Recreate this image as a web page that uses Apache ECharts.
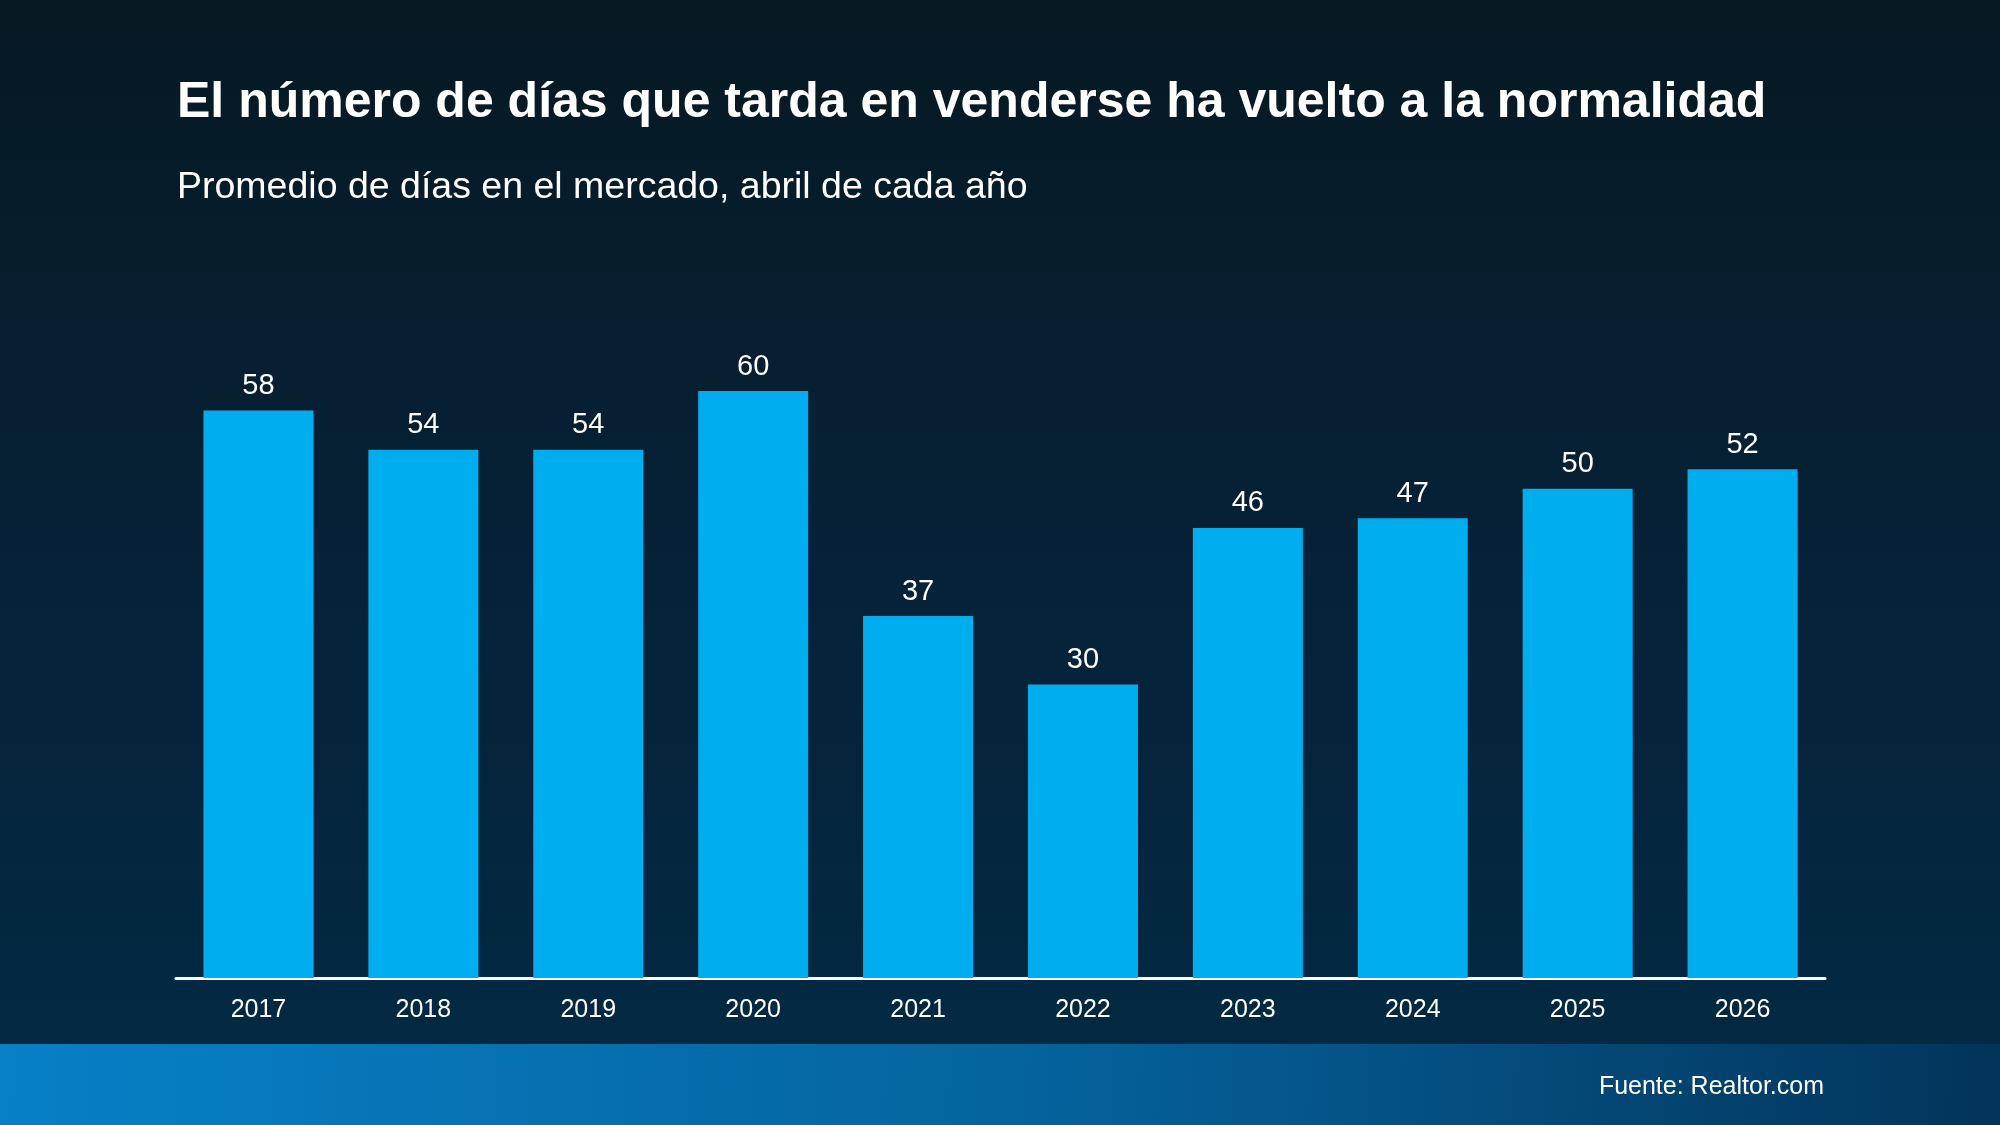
<!DOCTYPE html>
<html>
<head>
<meta charset="utf-8">
<script src="https://cdn.jsdelivr.net/npm/echarts@6/dist/echarts.min.js"></script>
<style>
html,body{margin:0;padding:0;background:#061a26;}
#main{width:2000px;height:1125px;}
</style>
</head>
<body>
<div id="main"></div>
<script>
const titleText = 'El número de días que tarda en venderse ha vuelto a la normalidad';
const subtitleText = 'Promedio de días en el mercado, abril de cada año';
const sourceText = 'Fuente: Realtor.com';
const years = ['2017','2018','2019','2020','2021','2022','2023','2024','2025','2026'];
const daysOnMarket = [58, 54, 54, 60, 37, 30, 46, 47, 50, 52];

const FONT = '"Liberation Sans", Arial, Helvetica, sans-serif';
const chart = echarts.init(document.getElementById('main'));
chart.setOption({
  animation: false,
  backgroundColor: {
    type: 'linear', x: 0, y: 0, x2: 0, y2: 1,
    colorStops: [
      { offset: 0, color: '#061923' },
      { offset: 0.5, color: '#062238' },
      { offset: 1, color: '#032a45' }
    ]
  },
  graphic: [
    {
      type: 'rect', z: -1,
      shape: { x: 0, y: 1044, width: 2000, height: 81 },
      style: {
        fill: {
          type: 'linear', x: 0, y: 0, x2: 1, y2: 1,
          colorStops: [
            { offset: 0, color: '#0780c7' },
            { offset: 0.5, color: '#05649f' },
            { offset: 1, color: '#03345a' }
          ]
        }
      }
    },
    {
      type: 'text', x: 177, y: 103,
      style: { text: titleText, fill: '#ffffff', font: 'bold 50px ' + FONT, verticalAlign: 'middle', align: 'left' }
    },
    {
      type: 'text', x: 177, y: 188,
      style: { text: subtitleText, fill: '#ffffff', font: '37.5px ' + FONT, verticalAlign: 'middle', align: 'left' }
    },
    {
      type: 'text', x: 1824, y: 1087,
      style: { text: sourceText, fill: '#ffffff', font: '25px ' + FONT, verticalAlign: 'middle', align: 'right' }
    }
  ],
  grid: { left: 176, right: 175, top: 391, bottom: 147, containLabel: false },
  xAxis: {
    type: 'category',
    data: years,
    axisLine: { show: true, lineStyle: { color: '#ffffff', width: 3 } },
    axisTick: { show: false },
    axisLabel: { color: '#ffffff', fontSize: 25, fontFamily: FONT, margin: 20 },
    splitLine: { show: false }
  },
  yAxis: {
    type: 'value', min: 0, max: 60, show: false,
    splitLine: { show: false }
  },
  series: [{
    type: 'bar',
    data: daysOnMarket,
    barWidth: 110,
    itemStyle: { color: '#00adef' },
    label: {
      show: true, position: 'top', distance: 10,
      color: '#ffffff', fontSize: 29, fontFamily: FONT
    }
  }]
});
</script>
</body>
</html>
